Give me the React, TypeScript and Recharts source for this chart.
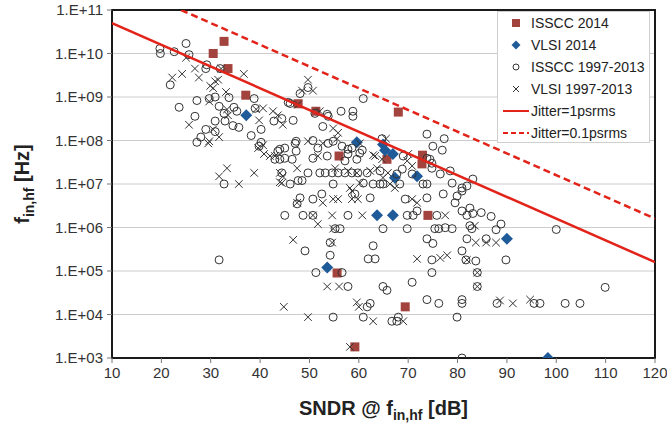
import React from 'react';
import { ScatterChart, Scatter, XAxis, YAxis, CartesianGrid, ReferenceArea, Label } from 'recharts';

const FONT = 'Arial, "Liberation Sans", sans-serif';

const xTicks = [10, 20, 30, 40, 50, 60, 70, 80, 90, 100, 110, 120];
const yTicks = [1e3, 1e4, 1e5, 1e6, 1e7, 1e8, 1e9, 1e10, 1e11];

const seriesNames = ['ISSCC 2014', 'VLSI 2014', 'ISSCC 1997-2013', 'VLSI 1997-2013', 'Jitter=1psrms', 'Jitter=0.1psrms'];

// [SNDR dB, f_in,hf Hz]
const isscc2014 = [
  [30.5, 1.0e10], [32.7, 1.9e10], [33.5, 4.5e9], [37.1, 1.1e9], [47.7, 7.0e8], [51.3, 4.7e8],
  [56.0, 4.4e7], [65.7, 3.7e7], [68.0, 4.5e8], [72.9, 4.6e7], [72.8, 2.9e7], [74.0, 1.9e6],
  [55.6, 9.0e4], [69.4, 1.5e4], [59.2, 1.8e3],
];

const vlsi2014 = [
  [37.2, 3.8e8], [59.6, 9.1e7], [64.9, 8.1e7], [65.3, 6.0e7], [66.9, 4.9e7], [67.3, 1.4e7],
  [71.8, 1.5e7], [63.7, 1.9e6], [66.9, 1.9e6], [53.6, 1.2e5], [90.0, 5.5e5], [98.3, 1.0e3],
];

const isscc9713 = [
  [19.7, 1.3e10], [19.8, 1.0e10], [22.6, 1.1e10], [25.0, 1.7e10], [25.6, 9.4e9], [21.8, 1.9e9],
  [29.2, 5.5e9], [29.0, 4.5e9], [31.9, 4.5e9], [27.2, 8.3e8], [23.6, 5.8e8], [29.7, 9.2e8],
  [30.9, 1.0e9], [33.7, 9.7e8], [26.8, 3.6e8], [31.7, 6.1e8], [32.7, 4.2e8], [34.7, 5.8e8],
  [35.3, 4.7e8], [30.9, 2.8e8], [32.9, 2.8e8], [34.5, 2.2e8], [35.7, 2.0e8], [29.0, 1.8e8],
  [30.9, 1.6e8], [28.0, 1.2e8], [27.2, 9.1e7], [38.2, 1.3e8], [38.8, 9.2e8], [39.0, 5.5e8],
  [40.2, 1.8e8], [40.2, 9.1e7], [42.8, 2.8e8], [44.4, 3.2e8], [46.7, 2.9e8], [45.7, 7.5e8],
  [47.3, 9.6e7], [44.0, 6.3e7], [45.0, 6.7e7], [39.8, 7.4e7], [48.1, 1.2e9], [49.7, 1.65e9],
  [60.9, 9.2e8], [51.1, 4.2e8], [53.8, 3.6e8], [56.4, 4.7e8], [58.8, 4.7e8], [58.8, 3.6e8],
  [52.7, 2.1e8], [73.8, 1.4e8], [77.3, 1.1e8], [75.0, 7.4e7], [76.9, 6.0e7], [47.1, 8.6e7],
  [50.7, 1.0e8], [51.7, 6.7e7], [53.8, 8.6e7], [54.8, 9.6e7], [56.6, 7.4e7], [57.8, 6.3e7],
  [64.7, 1.1e8], [74.4, 3.7e7], [58.6, 6.7e7], [60.7, 6.0e7], [45.0, 3.9e7], [46.5, 3.7e7],
  [50.7, 3.9e7], [53.6, 4.4e7], [57.8, 4.9e7], [60.2, 5.1e7], [57.2, 3.4e7], [59.6, 3.7e7],
  [69.0, 4.4e7], [73.8, 3.9e7], [74.8, 3.0e7],
  [44.4, 1.8e7], [49.7, 1.8e7], [52.1, 1.8e7], [53.2, 1.8e7], [54.6, 1.8e7], [55.8, 1.8e7],
  [57.2, 1.8e7], [58.6, 1.8e7], [59.8, 1.8e7], [61.7, 1.8e7], [64.3, 2.0e7], [67.7, 1.7e7],
  [68.8, 2.2e7], [70.8, 1.7e7], [74.8, 2.3e7], [76.5, 1.7e7], [78.5, 2.0e7],
  [46.1, 1.0e7], [48.5, 1.2e7], [54.8, 1.0e7], [60.9, 1.05e7], [62.9, 1.0e7], [64.3, 1.0e7],
  [64.9, 1.0e7], [68.3, 1.0e7], [73.0, 1.0e7], [73.8, 1.0e7], [78.9, 1.05e7], [80.9, 8.1e6],
  [83.1, 1.3e7],
  [48.1, 4.8e6], [50.7, 4.5e6], [52.5, 5.9e6], [59.2, 5.9e6], [62.3, 4.8e6], [69.4, 4.5e6],
  [73.8, 4.8e6], [77.1, 5.9e6], [79.9, 5.3e6], [79.5, 3.7e6], [82.5, 2.8e6],
  [45.0, 1.9e6], [48.7, 1.9e6], [50.7, 1.9e6], [57.8, 1.9e6], [69.8, 1.9e6], [71.0, 1.9e6],
  [71.8, 2.4e6], [75.8, 1.9e6], [80.9, 2.4e6], [83.1, 2.1e6],
  [55.2, 9.4e5], [56.2, 9.4e5], [64.9, 9.4e5], [69.8, 9.4e5], [75.4, 9.4e5], [76.2, 9.4e5],
  [77.5, 9.9e5], [78.9, 9.4e5], [82.5, 1.1e6], [82.9, 9.4e5],
  [49.1, 2.9e5], [54.2, 4.5e5], [62.9, 3.8e5], [73.8, 5.5e5], [75.0, 4.3e5], [80.9, 2.9e5],
  [81.9, 5.5e5], [54.2, 2.3e5], [61.9, 1.9e5], [63.3, 1.9e5], [74.8, 1.8e5],
  [51.3, 9.2e4], [56.6, 9.2e4], [74.8, 9.2e4], [84.0, 9.2e4], [57.8, 4.4e4], [64.9, 4.4e4],
  [65.7, 3.6e4], [70.8, 5.5e4], [84.0, 4.4e4], [73.8, 2.2e4], [76.2, 1.8e4], [80.9, 2.2e4],
  [80.9, 1.8e4], [88.0, 1.8e4], [95.5, 1.8e4], [96.7, 1.8e4], [62.3, 1.8e4], [61.7, 1.5e4],
  [54.8, 8.7e3], [60.9, 8.7e3], [66.7, 7.0e3], [67.7, 7.0e3], [68.0, 8.7e3], [79.9, 8.7e3],
  [80.9, 1.0e3],
  [81.9, 9.0e6], [80.9, 6.9e6], [81.9, 1.9e6], [84.8, 2.2e6], [86.8, 1.8e6], [88.8, 1.2e6],
  [87.8, 8.9e5], [100.0, 9.0e5], [83.7, 1.7e5], [89.8, 1.8e5], [85.8, 5.5e5], [81.7, 1.8e5],
  [109.9, 4.2e4], [101.8, 1.8e4], [104.8, 1.8e4], [32.7, 1.0e7], [31.7, 1.8e5], [43.6, 5.7e7],
  [43.0, 3.7e7], [44.0, 3.7e7], [47.3, 5.7e7], [47.7, 1.2e7], [47.5, 3.5e6], [53.6, 4.0e8],
  [46.1, 7.1e8],
];

const vlsi9713 = [
  [25.0, 8.0e9], [22.2, 2.8e9], [24.2, 3.4e9], [26.8, 4.5e9], [27.6, 2.8e9], [29.9, 1.8e9],
  [30.9, 2.3e9], [31.5, 2.5e9], [30.5, 1.6e9], [33.1, 1.3e9], [36.7, 3.4e9], [32.1, 4.5e9],
  [29.7, 7.9e8], [33.3, 5.2e8], [33.5, 3.8e8], [25.6, 2.3e8], [30.5, 1.8e8], [29.7, 9.6e7],
  [39.2, 5.2e8], [40.6, 5.5e8], [39.8, 2.9e8], [42.6, 4.7e8], [43.6, 3.8e8], [44.6, 2.3e8],
  [40.6, 7.8e7], [31.7, 1.2e8], [49.7, 2.5e9], [48.5, 1.4e9], [50.7, 1.4e9], [47.7, 6.7e8],
  [52.1, 4.7e8], [54.8, 1.9e8], [55.8, 1.5e8], [55.6, 1.1e8], [49.7, 9.6e7], [52.7, 8.6e7],
  [65.5, 1.1e8], [62.9, 4.6e7], [60.2, 8.6e7], [51.7, 4.4e7], [63.3, 4.4e7], [64.7, 3.7e7],
  [70.0, 4.9e7], [69.8, 3.4e7], [70.8, 2.6e7], [47.5, 2.3e7], [44.6, 1.5e7], [55.2, 2.3e7],
  [57.8, 2.0e7], [59.6, 1.8e7], [62.3, 2.0e7], [63.7, 2.3e7], [65.9, 1.8e7], [64.9, 1.4e7],
  [44.4, 1.05e7], [58.2, 8.1e6], [60.2, 1.05e7], [66.3, 1.0e7], [67.3, 8.1e6], [47.5, 3.7e6],
  [52.7, 3.7e6], [54.8, 4.5e6], [55.8, 4.5e6], [58.6, 6.9e6], [58.6, 4.5e6], [59.8, 4.5e6],
  [70.8, 4.5e6], [71.8, 3.7e6], [50.7, 1.9e6], [51.7, 1.2e6], [54.6, 1.9e6], [60.7, 1.9e6],
  [77.5, 1.9e6], [54.8, 9.4e5], [46.7, 5.2e5], [54.6, 4.5e5], [76.5, 2.0e5], [77.9, 2.3e5],
  [71.8, 1.9e5], [81.9, 1.8e5], [84.0, 9.2e4], [53.6, 4.4e4], [56.0, 4.4e4], [44.8, 1.5e4],
  [59.6, 1.9e4], [60.0, 1.5e4], [88.6, 2.1e4], [91.2, 1.8e4], [94.7, 2.2e4], [49.7, 8.7e3],
  [62.9, 7.0e3], [69.0, 7.0e3], [58.2, 1.8e3], [83.5, 1.1e6], [83.7, 4.5e5], [85.8, 4.5e5],
  [87.8, 4.5e5], [31.7, 1.5e7], [33.3, 2.3e7], [35.7, 1.0e7], [38.8, 1.8e7], [39.6, 6.7e7],
  [40.8, 4.9e7], [42.0, 4.4e7], [43.0, 4.4e7], [44.0, 1.8e7], [44.0, 1.1e7], [29.5, 8.6e7],
  [84.0, 4.4e4],
];

// jitter limit lines, end points
const jitter1ps = [[10, 5.0e10], [120, 1.6e5]];
const jitter01ps = [[24, 1.0e11], [120, 1.6e6]];

const pts = (rows: number[][]) => rows.map(([x, y]) => ({ x, y }));

const RED = '#e2231a';
const BROWN = '#a3433d';
const BLUE = '#1f5a99';
const INK = '#333';

const Square = ({ cx, cy, s = 9 }: any) => (
  <rect x={cx - s / 2} y={cy - s / 2} width={s} height={s} fill={BROWN} />
);
const Diamond = ({ cx, cy, s = 6 }: any) => (
  <polygon points={`${cx},${cy - s} ${cx + s},${cy} ${cx},${cy + s} ${cx - s},${cy}`} fill={BLUE} />
);
const Ring = ({ cx, cy, r = 4 }: any) => (
  <circle cx={cx} cy={cy} r={r} fill="none" stroke={INK} strokeWidth={1} />
);
const Cross = ({ cx, cy, s = 3.8 }: any) => (
  <g stroke={INK} strokeWidth={1}>
    <line x1={cx - s} y1={cy - s} x2={cx + s} y2={cy + s} />
    <line x1={cx - s} y1={cy + s} x2={cx + s} y2={cy - s} />
  </g>
);
const NoMark = () => <g />;

const expLabel = (v: number) => {
  const e = Math.round(Math.log10(v));
  return `1.E+${e < 10 ? '0' + e : e}`;
};

const XTitle = (props: any) => {
  const vb = props.viewBox || { x: 112, y: 358, width: 543 };
  return (
    <text x={vb.x + vb.width / 2} y={vb.y + 57} textAnchor="middle" fontFamily={FONT} fontWeight="bold" fontSize={20} fill="#222">
      SNDR @ f<tspan dy={5} fontSize={14}>in,hf</tspan><tspan dy={-5}>{' [dB]'}</tspan>
    </text>
  );
};

const YTitle = (props: any) => {
  const vb = props.viewBox || { x: 0, y: 10, height: 348 };
  const cx = vb.x + 29;
  const cy = vb.y + vb.height / 2;
  return (
    <text x={cx} y={cy} transform={`rotate(-90, ${cx}, ${cy})`} textAnchor="middle" fontFamily={FONT} fontWeight="bold" fontSize={20} fill="#222">
      f<tspan dy={5} fontSize={14}>in,hf</tspan><tspan dy={-5}>{' [Hz]'}</tspan>
    </text>
  );
};

const legendMarks = [
  <Square cx={18} cy={11} s={8} />,
  <Diamond cx={18} cy={11} s={4.5} />,
  <Ring cx={18} cy={11} r={3} />,
  <Cross cx={18} cy={11} s={3} />,
  <line x1={5} y1={11} x2={31} y2={11} stroke={RED} strokeWidth={2} />,
  <line x1={5} y1={11} x2={31} y2={11} stroke={RED} strokeWidth={2} strokeDasharray="5 3" />,
];

function LegendBox() {
  return (
    <div
      style={{
        position: 'absolute', left: 497, top: 11, width: 153, height: 132,
        border: '1px solid #cfcfcf', background: '#fff', boxSizing: 'border-box',
        fontFamily: FONT, fontSize: 14, color: '#222',
      }}
    >
      {seriesNames.map((name, i) => (
        <div key={name} style={{ position: 'absolute', left: 0, top: i * 22, height: 22, width: 153 }}>
          <svg width={34} height={22} style={{ position: 'absolute', left: 0, top: 0 }}>{legendMarks[i]}</svg>
          <span style={{ position: 'absolute', left: 33, top: 2, whiteSpace: 'nowrap', lineHeight: '18px' }}>{name}</span>
        </div>
      ))}
    </div>
  );
}

export default function App() {
  const tickStyle = { fontSize: 15, fill: INK, fontFamily: FONT };
  return (
    <div style={{ position: 'absolute', left: 0, top: 0, width: 667, height: 425, background: '#fff' }}>
      <ScatterChart width={667} height={425} margin={{ top: 10, right: 12, bottom: 37, left: 0 }}>
        <CartesianGrid vertical={false} stroke="#cccccc" />
        <XAxis
          type="number" dataKey="x" domain={[10, 120]} ticks={xTicks} allowDataOverflow
          height={30} axisLine={false} tickLine={{ stroke: '#777' }} tickSize={5} tickMargin={4} tick={tickStyle}
        >
          <Label content={XTitle} />
        </XAxis>
        <YAxis
          type="number" dataKey="y" scale="log" domain={[1e3, 1e11]} ticks={yTicks} allowDataOverflow
          width={112} axisLine={false} tickLine={{ stroke: '#777' }} tickSize={5} tickMargin={4} tick={tickStyle}
          tickFormatter={expLabel}
        >
          <Label content={YTitle} />
        </YAxis>
        <ReferenceArea x1={10} x2={120} y1={1e3} y2={1e11} fill="none" stroke="#1a1a1a" strokeWidth={2} />
        <Scatter name={seriesNames[0]} data={pts(isscc2014)} shape={Square} isAnimationActive={false} />
        <Scatter name={seriesNames[1]} data={pts(vlsi2014)} shape={Diamond} isAnimationActive={false} />
        <Scatter name={seriesNames[2]} data={pts(isscc9713)} shape={Ring} isAnimationActive={false} />
        <Scatter name={seriesNames[3]} data={pts(vlsi9713)} shape={Cross} isAnimationActive={false} />
        <Scatter
          name={seriesNames[4]} data={pts(jitter1ps)} shape={NoMark} lineType="joint"
          line={{ stroke: RED, strokeWidth: 2.5 }} isAnimationActive={false}
        />
        <Scatter
          name={seriesNames[5]} data={pts(jitter01ps)} shape={NoMark} lineType="joint"
          line={{ stroke: RED, strokeWidth: 2.5, strokeDasharray: '7 4' }} isAnimationActive={false}
        />
      </ScatterChart>
      <LegendBox />
    </div>
  );
}
